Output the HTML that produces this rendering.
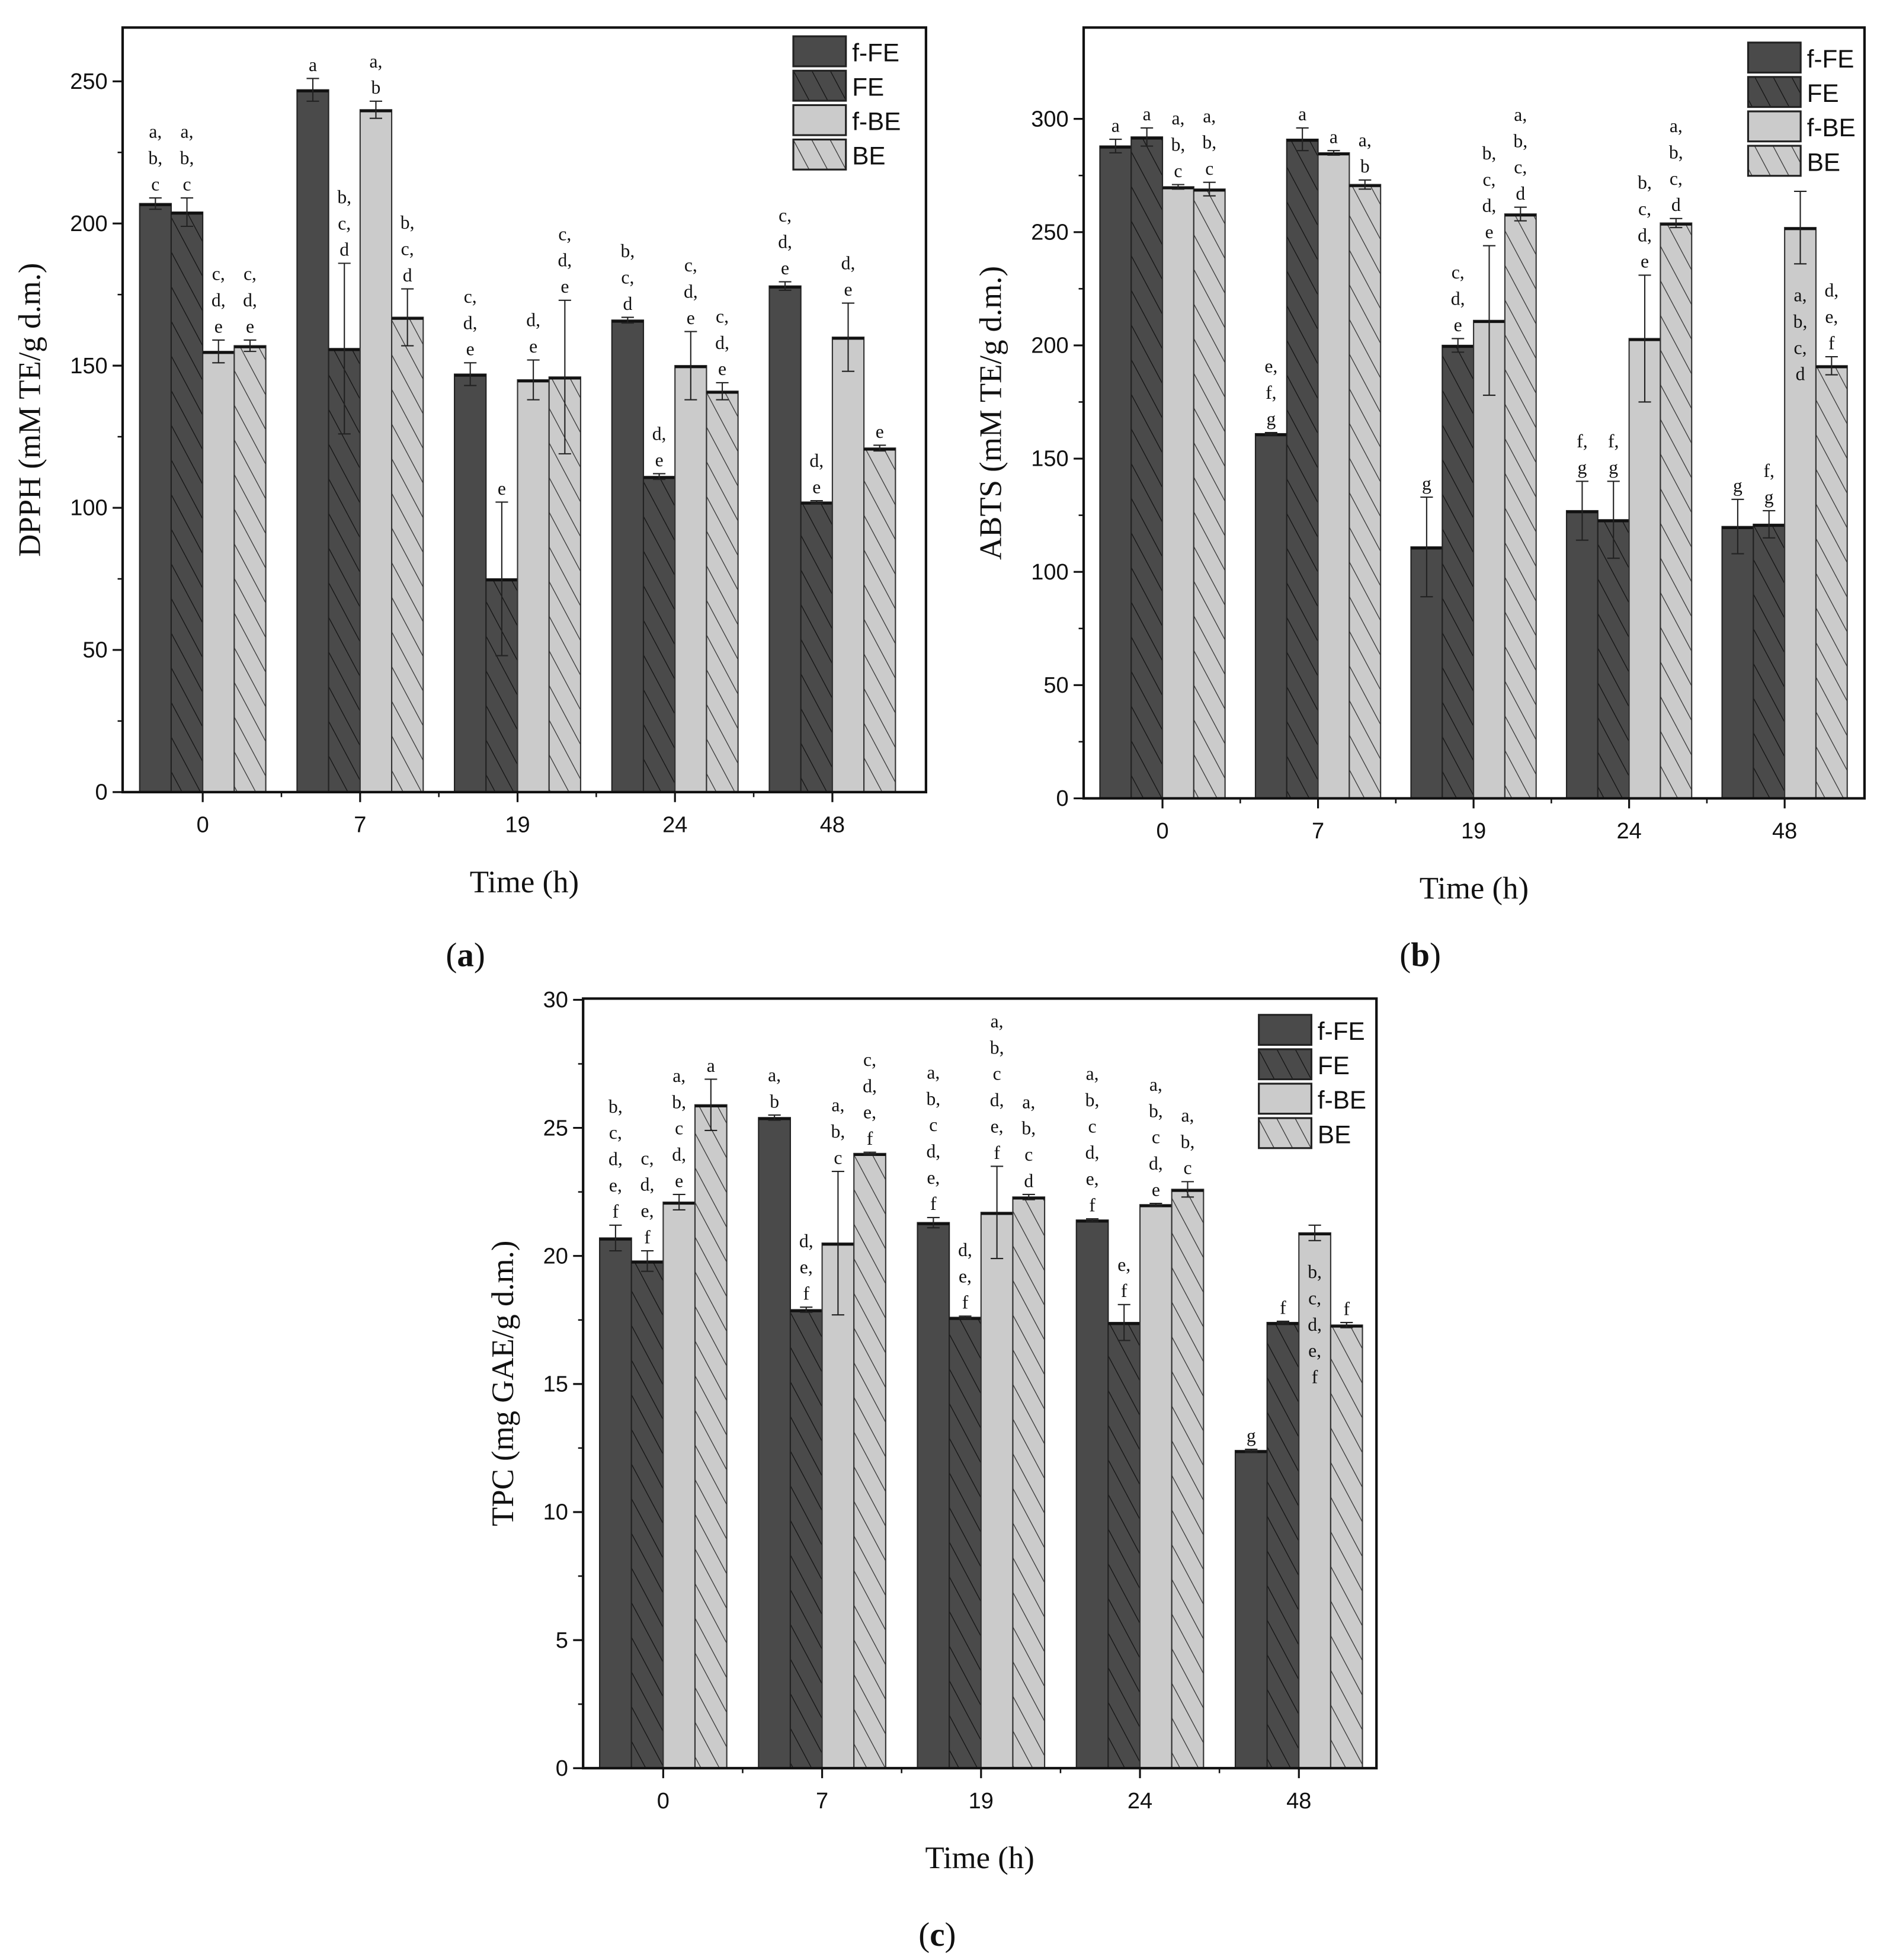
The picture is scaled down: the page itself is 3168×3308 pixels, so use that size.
<!DOCTYPE html>
<html><head><meta charset="utf-8"><style>
html,body{margin:0;padding:0;background:#fff;}
svg{display:block;}
</style></head><body>
<svg id="fig" width="3168" height="3308" viewBox="0 0 1500 1566.3" preserveAspectRatio="none" xmlns="http://www.w3.org/2000/svg">
<defs>
<pattern id="hatchDark" patternUnits="userSpaceOnUse" width="13" height="13" patternTransform="rotate(-28)">
<rect width="13" height="13" fill="#4a4a4a"/><line x1="0" y1="0" x2="0" y2="13" stroke="#111" stroke-width="1.2"/>
</pattern>
<pattern id="hatchLight" patternUnits="userSpaceOnUse" width="13" height="13" patternTransform="rotate(-28)">
<rect width="13" height="13" fill="#cbcbcb"/><line x1="0" y1="0" x2="0" y2="13" stroke="#333" stroke-width="1.2"/>
</pattern>
</defs>
</svg>
<script>
const categories = ["0","7","19","24","48"];
const seriesNames = ["f-FE","FE","f-BE","BE"];
// Panel a (DPPH)
const dpphFFE = [207,247,147,166,178];
const dpphFE  = [204,156,75,111,102];
const dpphFBE = [155,240,145,150,160];
const dpphBE  = [157,167,146,141,121];
const dpphErrFFE = [2,4,4,1,1.5];
const dpphErrFE  = [5,30,27,1,0.5];
const dpphErrFBE = [4,3,7,12,12];
const dpphErrBE  = [2,10,27,3,1];
const dpphLetters = [
 ["a,|b,|c","a,|b,|c","c,|d,|e","c,|d,|e"],
 ["a","b,|c,|d","a,|b","b,|c,|d"],
 ["c,|d,|e","e","d,|e","c,|d,|e"],
 ["b,|c,|d","d,|e","c,|d,|e","c,|d,|e"],
 ["c,|d,|e","d,|e","d,|e","e"]];
const dpphInside = [[0,0,0,0],[0,0,0,0],[0,0,0,0],[0,0,0,0],[0,0,0,0]];
const dpphTicks = [0,50,100,150,200,250];
// Panel b (ABTS)
const abtsFFE = [288,161,111,127,120];
const abtsFE  = [292,291,200,123,121];
const abtsFBE = [270,285,211,203,252];
const abtsBE  = [269,271,258,254,191];
const abtsErrFFE = [3,0.5,22,13,12];
const abtsErrFE  = [4,5,3,17,6];
const abtsErrFBE = [1,1,33,28,16];
const abtsErrBE  = [3,2,3,2,4];
const abtsLetters = [
 ["a","a","a,|b,|c","a,|b,|c"],
 ["e,|f,|g","a","a","a,|b"],
 ["g","c,|d,|e","b,|c,|d,|e","a,|b,|c,|d"],
 ["f,|g","f,|g","b,|c,|d,|e","a,|b,|c,|d"],
 ["g","f,|g","a,|b,|c,|d","d,|e,|f"]];
const abtsInside = [[0,0,0,0],[0,0,0,0],[0,0,0,0],[0,0,0,0],[0,0,1,0]];
const abtsTicks = [0,50,100,150,200,250,300];
// Panel c (TPC)
const tpcFFE = [20.7,25.4,21.3,21.4,12.4];
const tpcFE  = [19.8,17.9,17.6,17.4,17.4];
const tpcFBE = [22.1,20.5,21.7,22.0,20.9];
const tpcBE  = [25.9,24.0,22.3,22.6,17.3];
const tpcErrFFE = [0.5,0.1,0.2,0.05,0.05];
const tpcErrFE  = [0.4,0.1,0.05,0.7,0.05];
const tpcErrFBE = [0.3,2.8,1.8,0.05,0.3];
const tpcErrBE  = [1.0,0.05,0.1,0.3,0.1];
const tpcLetters = [
 ["b,|c,|d,|e,|f","c,|d,|e,|f","a,|b,|c|d,|e","a"],
 ["a,|b","d,|e,|f","a,|b,|c","c,|d,|e,|f"],
 ["a,|b,|c|d,|e,|f","d,|e,|f","a,|b,|c|d,|e,|f","a,|b,|c|d"],
 ["a,|b,|c|d,|e,|f","e,|f","a,|b,|c|d,|e","a,|b,|c"],
 ["g","f","b,|c,|d,|e,|f","f"]];
const tpcInside = [[0,0,0,0],[0,0,0,0],[0,0,0,0],[0,0,0,0],[0,0,1,0]];
const tpcTicks = [0,5,10,15,20,25,30];

const NS="http://www.w3.org/2000/svg";
const svg=document.getElementById('fig');
function mk(tag,attrs,parent){const e=document.createElementNS(NS,tag);for(const k in attrs)e.setAttribute(k,attrs[k]);(parent||svg).appendChild(e);return e;}
const fills=["#4a4a4a","url(#hatchDark)","#cbcbcb","url(#hatchLight)"];
const edge=["#222","#222","#333","#333"];

function panel(p){
  const g=mk('g',{});
  
  
  const yScale=v=>p.y1-(v-p.ymin)/(p.ymax-p.ymin)*(p.y1-p.yTopTick);
  const xScale=i=>p.x0c+i*p.step;
  const bw=p.bw;
  const vals=[p.s0,p.s1,p.s2,p.s3], errs=[p.e0,p.e1,p.e2,p.e3];
  categories.forEach((c,i)=>{
    for(let s=0;s<4;s++){
      const x=xScale(i)+(s-2)*bw, v=vals[s][i], yv=yScale(v);
      const r=mk('rect',{x:x,y:yv,width:bw,height:p.y1-yv,fill:fills[s],stroke:edge[s],'stroke-width':1},g);
      
      
      mk('line',{x1:x,x2:x+bw,y1:yv+1,y2:yv+1,stroke:'#111','stroke-width':2},g);
      const e=errs[s][i], yt=yScale(v+e), yb=yScale(v-e), cx=x+bw/2;
      const eb=mk('g',{stroke:'#222','stroke-width':1},g);
      
      
      mk('line',{x1:cx,x2:cx,y1:yt,y2:yb},eb);
      mk('line',{x1:cx-5,x2:cx+5,y1:yt,y2:yt},eb);
      mk('line',{x1:cx-5,x2:cx+5,y1:yb,y2:yb},eb);
      const lines=p.letters[i][s].split('|');
      const inside=p.inside[i][s];
      const lt=mk('text',{'font-family':'"Liberation Serif",serif','font-size':15,'text-anchor':'middle',fill:'#111'},g);
      
      
      lines.forEach((L,k)=>{
        const y= inside ? yb+30+k*21 : yt-6-(lines.length-1-k)*21;
        const ts=mk('tspan',{x:cx,y:y},lt); ts.textContent=L;
      });
    }
  });
  const fr=mk('rect',{x:p.x0,y:p.yTop,width:p.x1-p.x0,height:p.y1-p.yTop,fill:'none',stroke:'#111','stroke-width':2},g);
  
  
  const ya=mk('g',{},g);
  
  
  p.ticks.forEach((t,k)=>{
    const y=yScale(t);
    mk('line',{x1:p.x0-8,x2:p.x0,y1:y,y2:y,stroke:'#111','stroke-width':1.5},ya);
    if(k<p.ticks.length-1){const ym=yScale(t+(p.ticks[1]-p.ticks[0])/2);mk('line',{x1:p.x0-4,x2:p.x0,y1:ym,y2:ym,stroke:'#111','stroke-width':1.2},ya);}
    const tx=mk('text',{x:p.x0-12,y:y+6,'text-anchor':'end','font-family':'"Liberation Sans",sans-serif','font-size':18,fill:'#111'},ya);
    tx.textContent=t;
  });
  const xa=mk('g',{},g);
  
  
  categories.forEach((c,i)=>{
    const x=xScale(i);
    mk('line',{x1:x,x2:x,y1:p.y1,y2:p.y1+8,stroke:'#111','stroke-width':1.5},xa);
    if(i<categories.length-1){mk('line',{x1:x+p.step/2,x2:x+p.step/2,y1:p.y1,y2:p.y1+4,stroke:'#111','stroke-width':1.2},xa);}
    const tx=mk('text',{x:x,y:p.y1+32,'text-anchor':'middle','font-family':'"Liberation Sans",sans-serif','font-size':18,fill:'#111'},xa);
    tx.textContent=c;
  });
  const xt=mk('text',{x:(p.x0+p.x1)/2,y:p.y1+80,'text-anchor':'middle','font-family':'"Liberation Serif",serif','font-size':25,fill:'#111'},g);
  xt.textContent='Time (h)';
  
  
  const yt=mk('text',{x:0,y:0,'text-anchor':'middle','font-family':'"Liberation Serif",serif','font-size':25,fill:'#111',transform:`translate(${p.ytx},${(p.yTop+p.y1)/2}) rotate(-90)`},g);
  yt.textContent=p.ytitle;
  
  
  const cap=mk('text',{x:(p.x0+p.x1)/2+p.capdx,y:p.capY,'text-anchor':'middle','font-family':'"Liberation Serif",serif','font-size':27,fill:'#111'},g);
  cap.innerHTML='(<tspan font-weight="bold">'+p.cap+'</tspan>)';
  
  
  const lg=mk('g',{},g);
  
  
  seriesNames.forEach((n,s)=>{
    const y=p.legY+s*27.5;
    const sw=mk('rect',{x:p.legX,y:y,width:42,height:24,fill:fills[s],stroke:'#222','stroke-width':1.5},lg);
    
    
    const t=mk('text',{x:p.legX+47,y:y+20,'font-family':'"Liberation Sans",sans-serif','font-size':20,fill:'#111'},lg);
    t.textContent=n;
    
    
  });
}
panel({name:'panel-a-dpph',x0:98,x1:740,yTop:22,y1:633,ymin:0,ymax:250,yTopTick:65,x0c:162,step:125.8,bw:25.2,
 s0:dpphFFE,s1:dpphFE,s2:dpphFBE,s3:dpphBE,e0:dpphErrFFE,e1:dpphErrFE,e2:dpphErrFBE,e3:dpphErrBE,
 letters:dpphLetters,inside:dpphInside,ticks:dpphTicks,ytitle:'DPPH (mM TE/g d.m.)',ytx:32,cap:'a',capY:772,capdx:-47,legX:634,legY:29});
panel({name:'panel-b-abts',x0:866,x1:1490,yTop:22,y1:638,ymin:0,ymax:300,yTopTick:95,x0c:929,step:124.3,bw:25,
 s0:abtsFFE,s1:abtsFE,s2:abtsFBE,s3:abtsBE,e0:abtsErrFFE,e1:abtsErrFE,e2:abtsErrFBE,e3:abtsErrBE,
 letters:abtsLetters,inside:abtsInside,ticks:abtsTicks,ytitle:'ABTS (mM TE/g d.m.)',ytx:800,cap:'b',capY:772,capdx:-43,legX:1397,legY:34});
panel({name:'panel-c-tpc',x0:466,x1:1100,yTop:798,y1:1413,ymin:0,ymax:30,yTopTick:799,x0c:530,step:127,bw:25.4,
 s0:tpcFFE,s1:tpcFE,s2:tpcFBE,s3:tpcBE,e0:tpcErrFFE,e1:tpcErrFE,e2:tpcErrFBE,e3:tpcErrBE,
 letters:tpcLetters,inside:tpcInside,ticks:tpcTicks,ytitle:'TPC (mg GAE/g d.m.)',ytx:410,cap:'c',capY:1555,capdx:-34,legX:1006,legY:811});
</script>
</body></html>
